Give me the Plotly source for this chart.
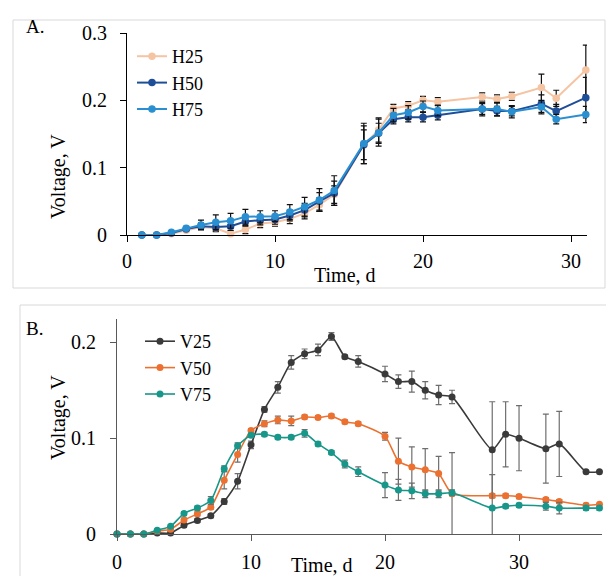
import plotly.graph_objects as go

# ---------------- Panel A data ----------------
days_a = [1, 2, 3, 4, 5, 6, 7, 8, 9, 10, 11, 12, 13, 14, 16, 17, 18, 19, 20, 21, 24, 25, 26, 28, 29, 31]
h25 = [0, 0, 0.002, 0.007, 0.012, 0.010, 0.002, 0.008, 0.017, 0.019, 0.024, 0.032, 0.045, 0.060,
       0.134, 0.156, 0.188, 0.192, 0.200, 0.198, 0.205, 0.202, 0.206, 0.219, 0.203, 0.245]
h50 = [0, 0, 0.003, 0.009, 0.013, 0.012, 0.013, 0.020, 0.022, 0.023, 0.029, 0.037, 0.050, 0.062,
       0.134, 0.151, 0.172, 0.175, 0.175, 0.178, 0.187, 0.184, 0.184, 0.195, 0.184, 0.204]
h75 = [0, 0, 0.004, 0.010, 0.015, 0.019, 0.021, 0.027, 0.027, 0.028, 0.034, 0.042, 0.052, 0.066,
       0.136, 0.152, 0.178, 0.182, 0.191, 0.185, 0.187, 0.187, 0.183, 0.190, 0.172, 0.179]
err_h25 = [0, 0, 0, 0.002, 0.004, 0.005, 0.004, 0.006, 0.006, 0.006, 0.007, 0.008, 0.010, 0.013,
           0.028, 0.018, 0.006, 0.006, 0.006, 0.006, 0.006, 0.006, 0.006, 0.020, 0.012, 0.037]
err_h50 = [0, 0, 0, 0.002, 0.005, 0.006, 0.006, 0.007, 0.007, 0.007, 0.008, 0.010, 0.013, 0.018,
           0.022, 0.015, 0.007, 0.007, 0.007, 0.007, 0.008, 0.007, 0.007, 0.013, 0.010, 0.030]
err_h75 = [0, 0, 0.001, 0.003, 0.007, 0.011, 0.011, 0.011, 0.009, 0.008, 0.011, 0.014, 0.017, 0.022,
           0.030, 0.020, 0.010, 0.010, 0.008, 0.008, 0.010, 0.010, 0.009, 0.010, 0.007, 0.012]

# ---------------- Panel B data ----------------
days_b = [0, 1, 2, 3, 4, 5, 6, 7, 8, 9, 10, 11, 12, 13, 14, 15, 16, 17, 18,
          20, 21, 22, 23, 24, 25, 28, 29, 30, 32, 33, 35, 36]
v25 = [0, 0, 0, 0.001, 0.001, 0.009, 0.014, 0.019, 0.034, 0.055, 0.093, 0.130, 0.153, 0.179, 0.188,
       0.192, 0.206, 0.185, 0.180,
       0.167, 0.159, 0.159, 0.150, 0.145, 0.143, 0.088, 0.104, 0.100, 0.089, 0.094, 0.065, 0.065]
v50 = [0, 0, 0, 0.003, 0.005, 0.0145, 0.021, 0.028, 0.056, 0.083, 0.108, 0.115, 0.119, 0.118, 0.122,
       0.1215, 0.123, 0.117, 0.115,
       0.102, 0.076, 0.070, 0.067, 0.063, 0.042, 0.040, 0.040, 0.039, 0.036, 0.034, 0.030, 0.031]
v75 = [0, 0, 0, 0.004, 0.008, 0.0215, 0.027, 0.035, 0.068, 0.092, 0.103, 0.104, 0.101, 0.101, 0.105,
       0.094, 0.085, 0.073, 0.065,
       0.051, 0.046, 0.045, 0.042, 0.042, 0.043, 0.027, 0.029, 0.030, 0.029, 0.027, 0.027, 0.027]
err_v25 = [0, 0, 0, 0, 0, 0.002, 0.002, 0.002, 0.003, 0.008, 0.004, 0.003, 0.006, 0.007, 0.005,
           0.006, 0.004, 0.002, 0.006,
           0.008, 0.007, 0.011, 0.009, 0.010, 0.007, 0.050, 0.034, 0.034, 0.036, 0.034, 0, 0]
err_v50 = [0, 0, 0, 0, 0, 0.002, 0.002, 0.002, 0.009, 0.008, 0.002, 0.003, 0.004, 0.005, 0.002,
           0.002, 0.002, 0.002, 0.002,
           0.004, 0.024, 0.021, 0.022, 0.018, 0.043, 0.002, 0.002, 0.002, 0.002, 0.002, 0.002, 0]
err_v75 = [0, 0, 0, 0, 0, 0.002, 0.002, 0.004, 0.003, 0.003, 0.002, 0.002, 0.002, 0.002, 0.004,
           0.002, 0.002, 0.004, 0.005,
           0.013, 0.011, 0.008, 0.004, 0.004, 0.003, 0.035, 0.002, 0.002, 0.004, 0.006, 0.002, 0.002]

W, H = 606, 576
FONT = "Liberation Serif, Times New Roman, serif"

def px_x(p):
    return p / W

def px_y(p):
    return 1 - p / H

fig = go.Figure()

for name, vals, errs, color in [("H25", h25, err_h25, "#F5C4A3"),
                                ("H50", h50, err_h50, "#1F4E99"),
                                ("H75", h75, err_h75, "#2A8FD0")]:
    fig.add_trace(go.Scatter(
        x=days_a, y=vals, name=name, mode="lines+markers",
        line=dict(color=color, width=2),
        marker=dict(color=color, size=7.5),
        error_y=dict(type="data", array=errs, color="#111111", thickness=1.2, width=3),
        xaxis="x", yaxis="y", legend="legend", cliponaxis=False))

for name, vals, errs, color in [("V25", v25, err_v25, "#3A3A3A"),
                                ("V50", v50, err_v50, "#EC7130"),
                                ("V75", v75, err_v75, "#17978A")]:
    fig.add_trace(go.Scatter(
        x=days_b, y=vals, name=name, mode="lines+markers",
        line=dict(color=color, width=1.6, shape="spline", smoothing=0.6),
        marker=dict(color=color, size=7),
        error_y=dict(type="data", array=errs, color="#6E6E6E", thickness=1.2, width=3),
        xaxis="x2", yaxis="y2", legend="legend2", cliponaxis=False))

axis_font = dict(family=FONT, size=20, color="black")
common = dict(showgrid=False, zeroline=False, automargin=False, ticks="outside", ticklen=6,
              tickfont=axis_font, fixedrange=True)

fig.update_layout(
    width=W, height=H, autosize=False,
    margin=dict(l=0, r=0, t=0, b=0, pad=0),
    paper_bgcolor="white", plot_bgcolor="white",
    font=dict(family=FONT, size=20, color="black"),
    xaxis=dict(domain=[px_x(127), px_x(587)], range=[0, 31.08], anchor="y",
               tickvals=[0, 10, 20, 30], showline=True, linecolor="black", linewidth=1.2,
               tickcolor="black", ticklabelstandoff=2, **common),
    yaxis=dict(domain=[px_y(235), px_y(33)], range=[0, 0.3], anchor="x",
               tickvals=[0, 0.1, 0.2, 0.3], ticktext=["0", "0.1", "0.2", "0.3"],
               showline=True, linecolor="black", linewidth=1.2,
               tickcolor="black", ticklabelstandoff=9, **common),
    xaxis2=dict(domain=[px_x(117), px_x(602)], range=[0, 36.19], anchor="y2",
                tickvals=[0, 10, 20, 30], showline=True, linecolor="#595959", linewidth=1.2,
                tickcolor="#595959", ticklabelstandoff=4, **common),
    yaxis2=dict(domain=[px_y(534), px_y(319.3)], range=[0, 0.224], anchor="x2",
                tickvals=[0, 0.1, 0.2], ticktext=["0", "0.1", "0.2"],
                showline=True, linecolor="#595959", linewidth=1.2,
                tickcolor="#595959", ticklabelstandoff=10, **common),
    legend=dict(x=px_x(132), y=px_y(38), xanchor="left", yanchor="top",
                bgcolor="rgba(0,0,0,0)", font=dict(family=FONT, size=18, color="black"),
                tracegroupgap=0, itemsizing="trace"),
    legend2=dict(x=px_x(140), y=px_y(323), xanchor="left", yanchor="top",
                 bgcolor="rgba(0,0,0,0)", font=dict(family=FONT, size=18, color="black"),
                 tracegroupgap=0, itemsizing="trace"),
    shapes=[
        dict(type="rect", xref="paper", yref="paper", x0=px_x(13), x1=px_x(605),
             y0=px_y(288), y1=px_y(20), line=dict(color="#D9D9D9", width=1)),
        dict(type="rect", xref="paper", yref="paper", x0=px_x(20), x1=px_x(640),
             y0=px_y(610), y1=px_y(305), line=dict(color="#D9D9D9", width=1)),
    ],
    annotations=[
        dict(text="A.", x=px_x(24), y=px_y(14), xref="paper", yref="paper",
             xanchor="left", yanchor="top", showarrow=False, font=dict(family=FONT, size=19)),
        dict(text="B.", x=px_x(24), y=px_y(316), xref="paper", yref="paper",
             xanchor="left", yanchor="top", showarrow=False, font=dict(family=FONT, size=19)),
        dict(text="Voltage, V", x=px_x(45), y=px_y(132), xref="paper", yref="paper",
             textangle=-90, showarrow=False, font=dict(family=FONT, size=20)),
        dict(text="Voltage, V", x=px_x(45), y=px_y(462), xref="paper", yref="paper",
             textangle=-90, showarrow=False, font=dict(family=FONT, size=20)),
        dict(text="Time, d", x=px_x(345), y=px_y(275), xref="paper", yref="paper",
             showarrow=False, font=dict(family=FONT, size=20)),
        dict(text="Time, d", x=px_x(322), y=px_y(552), xref="paper", yref="paper",
             yanchor="top", showarrow=False, font=dict(family=FONT, size=20)),
    ],
)

fig.write_html("out.html", config={"displayModeBar": False},
               post_script="document.body.style.margin='0';document.body.style.overflow='hidden';")
